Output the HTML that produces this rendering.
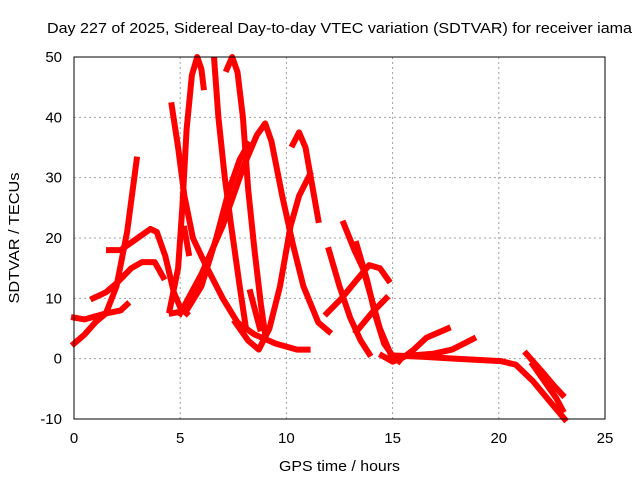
<!DOCTYPE html>
<html><head><meta charset="utf-8"><style>
body{margin:0;background:#fff}
svg{display:block;font-family:"Liberation Sans",sans-serif}
</style></head><body>
<svg id="chart" width="640" height="480" viewBox="0 0 640 480">
<text x="47" y="33" font-size="15" textLength="585" lengthAdjust="spacingAndGlyphs">Day 227 of 2025, Sidereal Day-to-day VTEC variation (SDTVAR) for receiver iama</text>
<g id="grid"></g>
<g id="tracks"></g>
<rect x="74" y="57" width="531" height="362" fill="none" stroke="#000" stroke-width="1"/>
<g id="ticks"></g>
<text x="279" y="471" font-size="15" textLength="121" lengthAdjust="spacingAndGlyphs">GPS time / hours</text>
<text x="0" y="0" font-size="15" text-anchor="middle" textLength="131" lengthAdjust="spacingAndGlyphs" transform="translate(19,238) rotate(-90)">SDTVAR / TECUs</text>
</svg>
<script>
const xTicks=[0,5,10,15,20,25];
const yTicks=[-10,0,10,20,30,40,50];
const track1=[[0,6.8],[0.5,6.5],[1,7],[1.5,7.5],[2.2,8],[2.5,9]];
const track2=[[0,2.5],[0.5,4],[1,6],[1.5,7.5],[2,12],[2.5,21],[2.95,33]];
const track3=[[0.9,10],[1.5,11],[2,12.5],[2.7,15],[3.2,16],[3.8,16],[4.2,13.5]];
const track4=[[1.65,18],[2.2,18],[3,20],[3.6,21.5],[3.9,21],[4.3,17],[4.7,11],[5.0,8.5],[5.3,7.5]];
const track5=[[4.6,42],[4.9,35],[5.2,27],[5.6,20],[6.2,15.5],[7,10],[7.7,6],[8.5,4],[9.5,2.5],[10.5,1.5],[11,1.5]];
const track6=[[4.5,8],[4.9,15],[5.1,25],[5.3,38],[5.55,47],[5.8,50],[6.0,48],[6.1,45]];
const track7=[[6.6,49.5],[6.8,40],[7.1,30],[7.4,22],[7.8,12],[8.1,5]];
const track8=[[7.2,48],[7.45,50],[7.7,47.5],[7.95,40],[8.2,28],[8.5,18],[8.8,9],[9.0,4]];
const track9=[[4.6,7.5],[5.3,8],[6,12],[6.7,20],[7.3,28],[7.8,33],[8.2,35.5]];
const track10=[[5,7.5],[6,14],[7,22],[8,32],[8.6,37],[9.0,39],[9.3,36],[9.8,27],[10.3,19],[10.8,12],[11.5,6],[12,4.5]];
const track11=[[10.3,35.5],[10.6,37.5],[10.9,35],[11.2,29],[11.5,23]];
const track12=[[7.6,6],[8.2,3],[8.7,1.5],[9.2,5],[9.7,12],[10.2,22],[10.6,27],[11.1,30.5]];
const track13=[[8.3,11],[8.75,5]];
const track14=[[5.2,21.5],[5.4,17.5]];
const track15=[[11.9,7.5],[12.6,10],[13.3,13],[13.9,15.5],[14.4,15],[14.8,13]];
const track16=[[12.7,22.4],[13.2,18],[13.6,15],[14.0,10],[14.4,5],[14.9,0.8],[15.3,-0.4]];
const track17=[[13.3,19],[13.8,13],[14.2,7],[14.6,2.5],[15.0,0.5]];
const track18=[[12.0,18],[12.5,12],[13.0,6.8],[13.5,3],[13.9,0.8]];
const track19=[[13.3,4.5],[14.0,7.5],[14.7,10]];
const track20=[[14.5,0.5],[15,-0.5],[15.5,0.2],[16,1.5],[16.6,3.5],[17.6,5]];
const track21=[[15.8,0.5],[16.9,0.8],[17.8,1.5],[18.8,3.3]];
const track22=[[15.2,0.5],[16.5,0.3],[18,0],[19,-0.2],[20.1,-0.4],[20.8,-1],[21.6,-3.7],[22.5,-7.5],[23.1,-10]];
const track23=[[21.3,0.8],[22,-2],[22.6,-4.5],[23.0,-6]];
const track24=[[21.6,-1],[22.2,-4],[22.7,-6.5],[23.0,-8.5]];
const tracks=[track1,track2,track3,track4,track5,track6,track7,track8,track9,track10,track11,track12,track13,track14,track15,track16,track17,track18,track19,track20,track21,track22,track23,track24];

const NS='http://www.w3.org/2000/svg';
const X0=74,X1=605,Y0=419,Y1=57;
function xs(h){return X0+(h-0)/25*(X1-X0);}
function ys(v){return Y0-(v+10)/60*(Y0-Y1);}
const grid=document.getElementById('grid'),ticks=document.getElementById('ticks'),tg=document.getElementById('tracks');
xTicks.forEach(t=>{
  const x=xs(t);
  if(t>0&&t<25){const l=document.createElementNS(NS,'line');
    
    
    l.setAttribute('x1',x);l.setAttribute('x2',x);l.setAttribute('y1',Y1);l.setAttribute('y2',Y0);
    l.setAttribute('stroke','#a0a0a0');l.setAttribute('stroke-dasharray','2,3');grid.appendChild(l);}
  const tx=document.createElementNS(NS,'text');
  
  
  tx.setAttribute('x',x);tx.setAttribute('y',443);tx.setAttribute('font-size','15');tx.setAttribute('text-anchor','middle');
  tx.textContent=t;ticks.appendChild(tx);
});
yTicks.forEach(t=>{
  const y=ys(t);
  if(t>-10&&t<50){const l=document.createElementNS(NS,'line');
    
    
    l.setAttribute('x1',X0);l.setAttribute('x2',X1);l.setAttribute('y1',y);l.setAttribute('y2',y);
    l.setAttribute('stroke','#a0a0a0');l.setAttribute('stroke-dasharray','2,3');grid.appendChild(l);}
  const tx=document.createElementNS(NS,'text');
  
  
  tx.setAttribute('x',62);tx.setAttribute('y',y+5);tx.setAttribute('font-size','15');tx.setAttribute('text-anchor','end');
  tx.textContent=t;ticks.appendChild(tx);
});
tracks.forEach(tr=>{
  const p=document.createElementNS(NS,'polyline');
  
  
  p.setAttribute('points',tr.map(d=>xs(d[0]).toFixed(1)+','+ys(d[1]).toFixed(1)).join(' '));
  p.setAttribute('fill','none');p.setAttribute('stroke','#ff0000');p.setAttribute('stroke-width','6');
  p.setAttribute('stroke-linejoin','round');p.setAttribute('stroke-linecap','square');
  tg.appendChild(p);
});
</script>
</body></html>
